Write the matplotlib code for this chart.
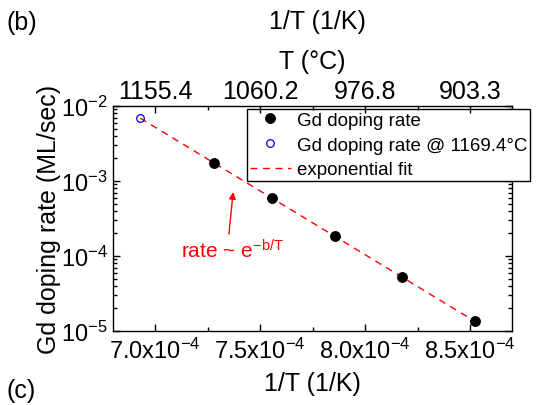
import numpy as np
import matplotlib
matplotlib.use("Agg")
import matplotlib.pyplot as plt
from matplotlib.ticker import MultipleLocator, LogLocator, NullFormatter
from matplotlib.lines import Line2D

plt.rcParams['font.family'] = ['Liberation Sans', 'DejaVu Sans']
plt.rcParams['mathtext.fontset'] = 'custom'
plt.rcParams['mathtext.rm'] = 'Liberation Sans'
plt.rcParams['mathtext.it'] = 'Liberation Sans:italic'
plt.rcParams['axes.linewidth'] = 1.0

# date
inv_T = [7.283e-4, 7.558e-4, 7.855e-4, 8.177e-4, 8.523e-4]
rate = [1.74e-3, 5.88e-4, 1.83e-4, 5.2e-5, 1.35e-5]
inv_T_1169 = [6.93e-4]
rate_1169 = [6.85e-3]

x_ticks = [7.0e-4, 7.5e-4, 8.0e-4, 8.5e-4]
bottom_labels = ['7.0x10$^{-4}$', '7.5x10$^{-4}$', '8.0x10$^{-4}$', '8.5x10$^{-4}$']
top_labels = ['1155.4', '1060.2', '976.8', '903.3']

# fit exponential pe toate punctele
all_x = np.array(inv_T_1169 + inv_T)
all_y = np.array(rate_1169 + rate)
coeffs = np.polyfit(all_x, np.log(all_y), 1)
x_fit = np.linspace(all_x.min(), all_x.max(), 100)
y_fit = np.exp(np.polyval(coeffs, x_fit))

fig = plt.figure(figsize=(5.47, 4.06), dpi=100)
ax = fig.add_axes([113 / 547, 1 - 332 / 406, 399 / 547, 225 / 406])

ax.plot(x_fit, y_fit, color='red', ls=(0, (5, 4)), lw=1.0, zorder=2)
ax.plot(inv_T, rate, 'o', color='black', ms=6.8, zorder=3)
ax.plot(inv_T_1169, rate_1169, 'o', mfc='none', mec='blue', ms=5.5, mew=0.9, zorder=3)

ax.set_yscale('log')
ax.set_ylim(1e-5, 1e-2)
ax.set_xlim(6.8e-4, 8.7e-4)
ax.yaxis.set_major_locator(LogLocator(base=10, numticks=10))
ax.yaxis.set_minor_locator(LogLocator(base=10, subs=np.arange(2, 10), numticks=10))
ax.yaxis.set_minor_formatter(NullFormatter())

ax.set_xticks(x_ticks)
ax.set_xticklabels(bottom_labels)
ax.xaxis.set_minor_locator(MultipleLocator(0.25e-4))

ax.tick_params(which='both', direction='in', top=False, right=True, width=1.0)
ax.tick_params(which='major', length=5)
ax.tick_params(which='minor', length=3)
ax.tick_params(axis='x', labelsize=17, pad=5)
ax.tick_params(axis='y', labelsize=17, pad=4)

ax.set_xlabel('1/T (1/K)', fontsize=18, labelpad=6)
ax.set_ylabel('Gd doping rate (ML/sec)', fontsize=18, labelpad=0)

# axa de sus: temperatura in grade Celsius
ax2 = ax.twiny()
ax2.set_xlim(ax.get_xlim())
ax2.set_xticks(x_ticks)
ax2.set_xticklabels(top_labels)
ax2.xaxis.set_minor_locator(MultipleLocator(0.25e-4))
for s in ax2.spines.values():
    s.set_visible(False)
ax2.tick_params(which='both', direction='in', width=1.0, labelsize=18, pad=2)
ax2.tick_params(which='major', length=5)
ax2.tick_params(which='minor', length=3)
ax2.set_xlabel('T (°C)', fontsize=18, labelpad=8)

# adnotare
ax.annotate('', xy=(7.372e-4, 7.13e-4), xytext=(7.352e-4, 1.96e-4),
            arrowprops=dict(arrowstyle='-|>', color='red', lw=1.0,
                            mutation_scale=10, shrinkA=0, shrinkB=0))
ax.text(7.124e-4, 1.2e-4, r'rate ~ e$^{\mathrm{-b/T}}$', color='red',
        fontsize=15, va='center', ha='left')

handles = [
    Line2D([], [], ls='none', marker='o', color='black', ms=6.8),
    Line2D([], [], ls='none', marker='o', mfc='none', mec='blue', ms=5.5, mew=0.9),
    Line2D([], [], color='red', ls=(0, (5, 4)), lw=1.0),
]
labels = ['Gd doping rate', 'Gd doping rate @ 1169.4°C', 'exponential fit']
leg = ax.legend(handles, labels, loc='upper left',
                bbox_to_anchor=(247 / 547, 1 - 110 / 406),
                bbox_transform=fig.transFigure, fontsize=13.5,
                frameon=True, fancybox=False, framealpha=1, edgecolor='black',
                borderpad=0.15, labelspacing=0.4, handlelength=2.2,
                handletextpad=0.3, borderaxespad=0)
leg.get_frame().set_linewidth(1.0)
leg.set_zorder(5)

fig.text(7 / 547, 1 - 23 / 406, '(b)', fontsize=18, ha='left', va='center')
fig.text(317 / 547, 1 - 22 / 406, '1/T (1/K)', fontsize=18, ha='center', va='center')
fig.text(7 / 547, 1 - 391 / 406, '(c)', fontsize=18, ha='left', va='center')

fig.savefig('out.png', dpi=100)
